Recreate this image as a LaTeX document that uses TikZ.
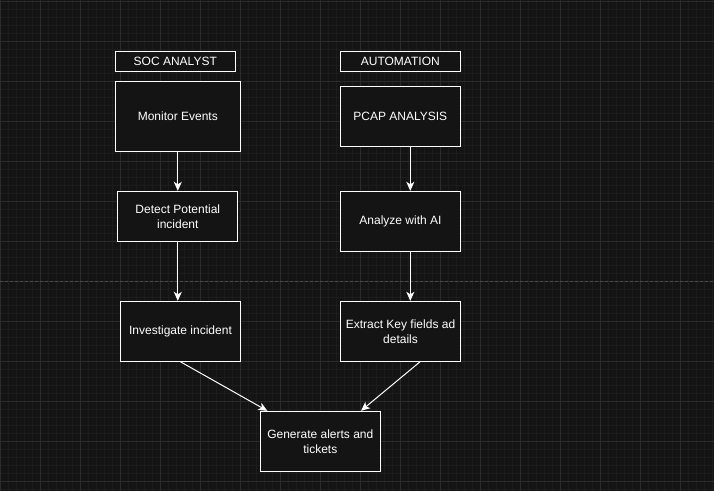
\documentclass[tikz,border=0pt]{standalone}
\usepackage{fontspec}
\setmainfont{Liberation Sans}
\usetikzlibrary{arrows.meta}
\definecolor{bgc}{HTML}{141414}
\definecolor{minorc}{HTML}{1C1C1C}
\definecolor{majorc}{HTML}{2B2B2B}
\definecolor{pagec}{HTML}{4A4A4A}
\tikzset{
  box/.style={draw=white, line width=1pt, fill=bgc, text=white, inner sep=0pt, align=center,
    font=\fontsize{12}{15}\selectfont},
  conn/.style={draw=white, line width=1pt, -{Stealth[length=9pt,width=8pt,inset=2.5pt]}},
}
\begin{document}
\begin{tikzpicture}[x=1pt,y=-1pt]
\useasboundingbox (0,0) rectangle (714,491);
\fill[bgc] (0,0) rectangle (714,491);
% grid
\foreach \x in {0,8,...,712} \draw[minorc, line width=1pt] (\x,0) -- (\x,491);
\foreach \y in {1,9,...,489} \draw[minorc, line width=1pt] (0,\y) -- (714,\y);
\foreach \x in {0,40,...,680} \draw[majorc, line width=1pt] (\x,0) -- (\x,491);
\foreach \y in {1,41,...,481} \draw[majorc, line width=1pt] (0,\y) -- (714,\y);
\draw[pagec, line width=1pt, dash pattern=on 3pt off 2pt] (0,281) -- (714,281);
% nodes
\node[box, minimum width=120pt, minimum height=20pt] (soc) at (175.3,61.3) {SOC ANALYST};
\node[box, minimum width=125pt, minimum height=70pt] (mon) at (177.8,116.3) {Monitor Events};
\node[box, minimum width=120pt, minimum height=20pt] (aut) at (400.3,61.3) {AUTOMATION};
\node[box, minimum width=120pt, minimum height=60pt] (pcap) at (400.3,116.3) {PCAP ANALYSIS};
\node[box, minimum width=120.3pt, minimum height=50pt] (det) at (177.8,216.3) {Detect Potential\\incident};
\node[box, minimum width=120.4pt, minimum height=60pt] (ana) at (400.5,221.3) {Analyze with AI};
\node[box, minimum width=119.6pt, minimum height=60pt] (inv) at (180.5,331.3) {Investigate incident};
\node[box, minimum width=120.4pt, minimum height=60pt] (ext) at (400.5,331.3) {Extract Key fields ad\\details};
\node[box, minimum width=120pt, minimum height=60pt] (gen) at (320.3,441.3) {Generate alerts and\\tickets};
% connectors
\draw[conn] (mon.south) -- (det.north);
\draw[conn] (det.south) -- (det.south |- inv.north);
\draw[conn] ([xshift=10pt]pcap.south) -- ([xshift=9.8pt]ana.north);
\draw[conn] ([xshift=9.8pt]ana.south) -- ([xshift=9.8pt]ext.north);
\draw[conn] (inv.south) -- ([xshift=-53pt]gen.north);
\draw[conn] ([xshift=19.5pt]ext.south) -- ([xshift=40.7pt]gen.north);
\end{tikzpicture}
\end{document}
